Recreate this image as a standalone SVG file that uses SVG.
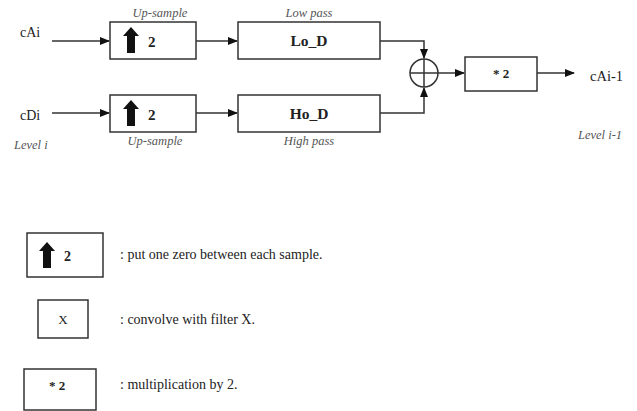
<svg xmlns="http://www.w3.org/2000/svg" width="637" height="411" viewBox="0 0 637 411">
<style>
.box{fill:#fff;stroke:#333;stroke-width:1.5}
.ln{fill:none;stroke:#333;stroke-width:1.5}
.t{font-family:"Liberation Serif",serif;fill:#222}
.it{font-family:"Liberation Serif",serif;font-style:italic;fill:#555;font-size:12.5px}
.b{font-weight:bold}
.lg{font-size:14px}
</style>
<defs>
<marker id="ah" markerWidth="10" markerHeight="8" refX="9" refY="4" orient="auto" markerUnits="userSpaceOnUse">
<path d="M0,0 L10,4 L0,8 Z" fill="#111"/>
</marker>
<path id="up" d="M-8,9 L0,0 L8,9 L4,9 L4,26 L-4,26 L-4,9 Z" fill="#111"/>
</defs>
<rect width="637" height="411" fill="#fff"/>

<g id="connectors">
<line class="ln" x1="52" y1="41" x2="109" y2="41" marker-end="url(#ah)"/>
<line class="ln" x1="52" y1="113" x2="109" y2="113" marker-end="url(#ah)"/>
<line class="ln" x1="196" y1="41" x2="237" y2="41" marker-end="url(#ah)"/>
<line class="ln" x1="196" y1="113" x2="237" y2="113" marker-end="url(#ah)"/>
<polyline class="ln" points="380,41 424,41 424,58" marker-end="url(#ah)"/>
<polyline class="ln" points="380,113 424,113 424,88" marker-end="url(#ah)"/>
<line class="ln" x1="438" y1="73" x2="464" y2="73" marker-end="url(#ah)"/>
<line class="ln" x1="537" y1="73" x2="574" y2="73" marker-end="url(#ah)"/>
</g>

<g id="labels">
<text class="t" x="20" y="37" font-size="14">cAi</text>
<text class="t" x="20" y="120" font-size="14">cDi</text>
<text class="it" x="14" y="149">Level i</text>
<text class="t" x="590" y="81" font-size="14.5">cAi-1</text>
<text class="it" x="578" y="139" font-size="13px">Level i-1</text>
<text class="it" x="160" y="17" text-anchor="middle">Up-sample</text>
<text class="it" x="155" y="145" text-anchor="middle">Up-sample</text>
<text class="it" x="309" y="17" text-anchor="middle">Low pass</text>
<text class="it" x="309" y="145" text-anchor="middle">High pass</text>
</g>

<g id="up1">
<rect class="box" x="110" y="22" width="86" height="37"/>
<use href="#up" x="131" y="27"/>
<text class="t b" x="148" y="47" font-size="15">2</text>
</g>
<g id="up2">
<rect class="box" x="110" y="95" width="86" height="37"/>
<use href="#up" x="131" y="100"/>
<text class="t b" x="148" y="120" font-size="15">2</text>
</g>
<g id="lod">
<rect class="box" x="238" y="22" width="142" height="37"/>
<text class="t b" x="309" y="46" font-size="15.5" text-anchor="middle">Lo_D</text>
</g>
<g id="hod">
<rect class="box" x="238" y="95" width="142" height="37"/>
<text class="t b" x="309" y="119" font-size="15.5" text-anchor="middle">Ho_D</text>
</g>
<g id="sum">
<circle cx="424" cy="73" r="14" fill="#fff" stroke="#333" stroke-width="1.5"/>
<line class="ln" x1="410" y1="73" x2="438" y2="73"/>
<line class="ln" x1="424" y1="59" x2="424" y2="87"/>
</g>
<g id="mul">
<rect class="box" x="465" y="57" width="72" height="34"/>
<text class="t b" x="501" y="78" font-size="13" text-anchor="middle">* 2</text>
</g>

<g id="legend-up">
<rect class="box" x="27" y="233" width="76" height="44"/>
<use href="#up" x="47" y="242"/>
<text class="t b" x="64" y="261" font-size="14">2</text>
<text class="t lg" x="120" y="259">: put one zero between each sample.</text>
</g>
<g id="legend-x">
<rect class="box" x="38" y="300" width="50" height="38"/>
<text class="t" x="63" y="324" font-size="13" text-anchor="middle">X</text>
<text class="t lg" x="120" y="324">: convolve with filter X.</text>
</g>
<g id="legend-mul">
<rect class="box" x="24" y="369" width="72" height="41"/>
<text class="t b" x="57" y="390" font-size="13" text-anchor="middle">* 2</text>
<text class="t lg" x="120" y="389">: multiplication by 2.</text>
</g>
</svg>
